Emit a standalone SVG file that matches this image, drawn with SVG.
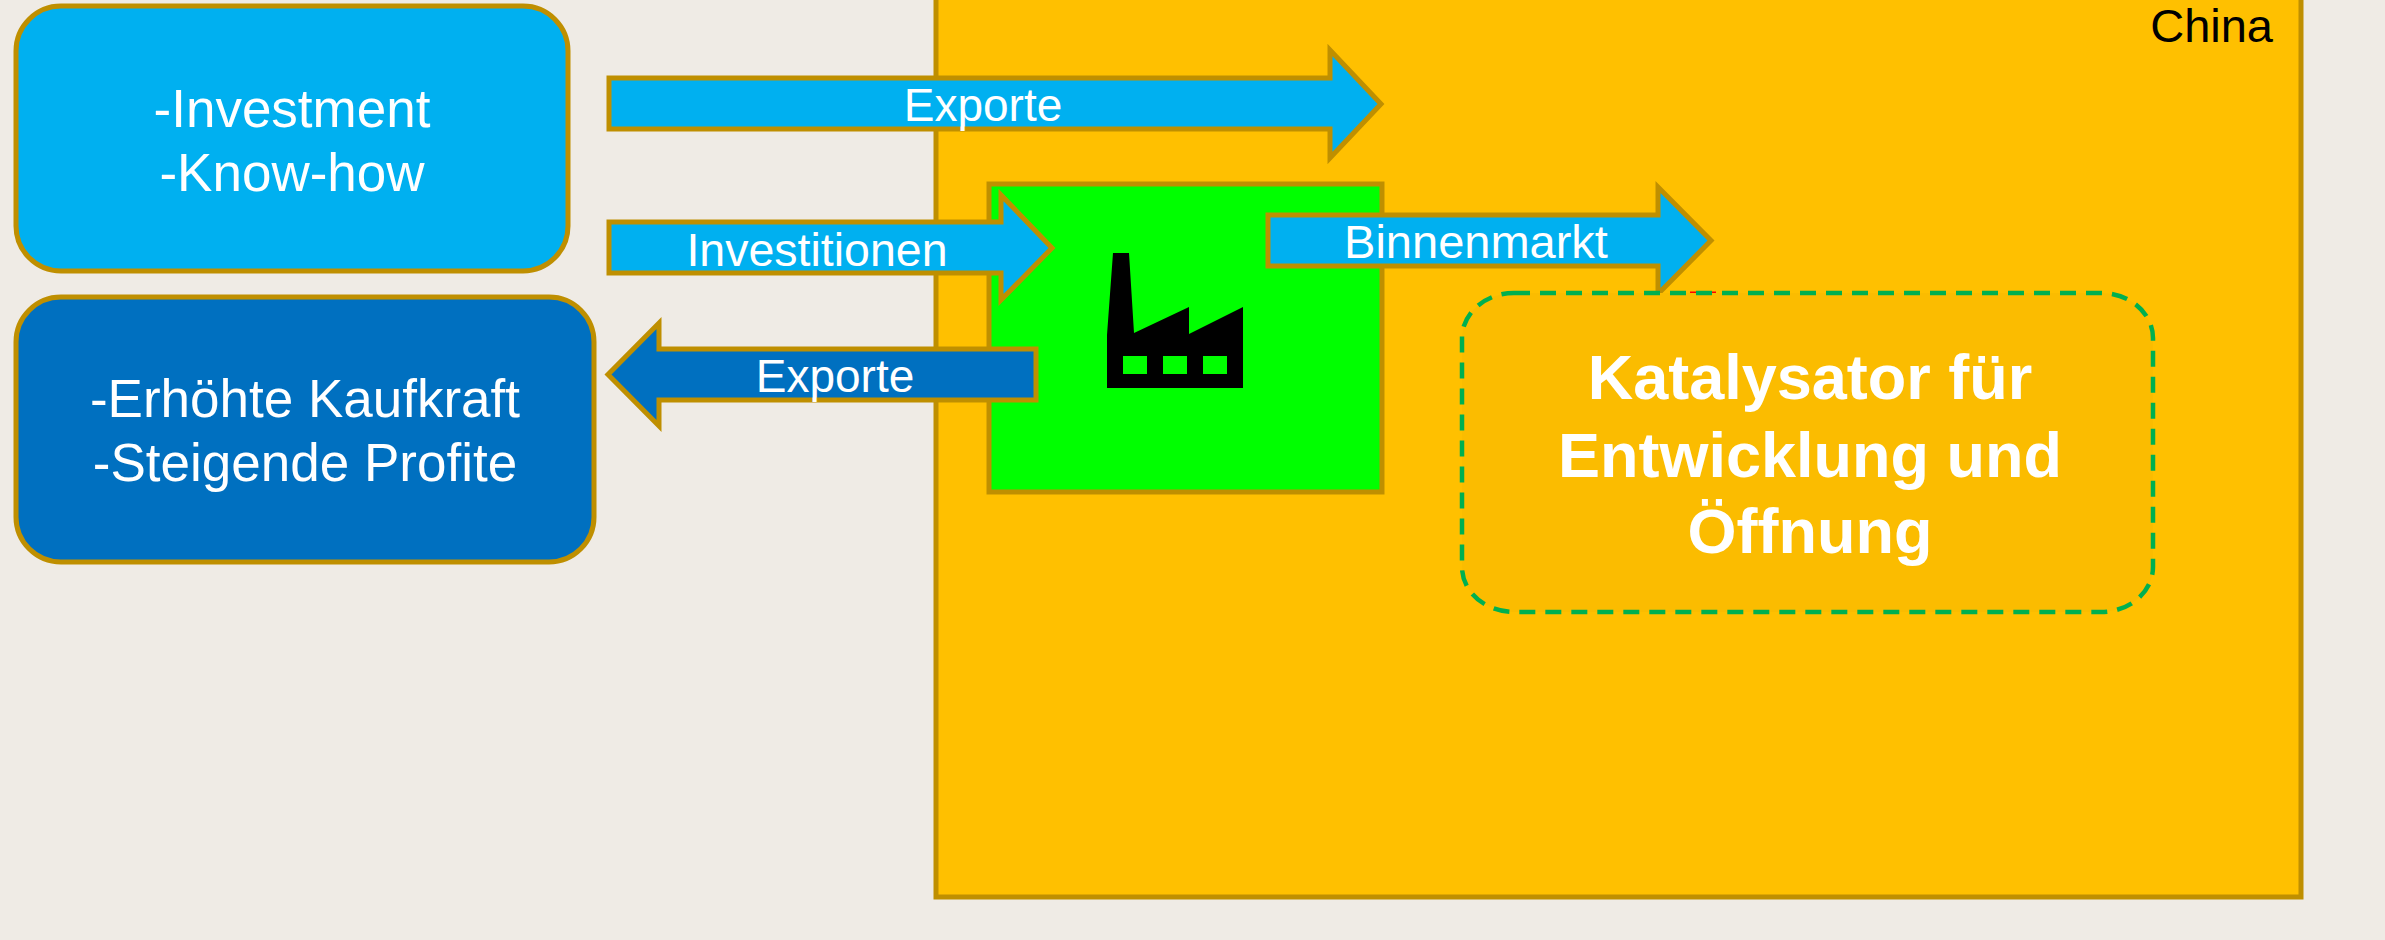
<svg xmlns="http://www.w3.org/2000/svg" width="2385" height="940" viewBox="0 0 2385 940">
<style>
.st{stroke:#BF8F00;stroke-width:5;stroke-linejoin:miter}
.lb{fill:#00B0F0}
.db{fill:#0070C0}
.t{font-family:"Liberation Sans",Arial,sans-serif;fill:#FFFFFF;text-anchor:middle}
.tb{font-family:"Liberation Sans",Arial,sans-serif;fill:#FFFFFF;text-anchor:middle;font-weight:bold;font-size:63px}
</style>
<rect x="0" y="0" width="2385" height="940" fill="#EFEBE5"/>
<g id="china">
<rect x="936" y="-10" width="1365" height="907" fill="#FFC000" class="st"/>
<text x="2273" y="42" font-family="Liberation Sans, Arial, sans-serif" font-size="47" fill="#000000" text-anchor="end">China</text>
</g>
<g id="investment-box">
<rect x="16" y="6" width="552" height="265" rx="45" ry="45" class="st lb"/>
<text class="t" font-size="53"><tspan x="292" y="127">-Investment</tspan><tspan x="292" y="191">-Know-how</tspan></text>
</g>
<g id="kaufkraft-box">
<rect x="16" y="297" width="578" height="265" rx="45" ry="45" class="st db"/>
<text class="t" font-size="53"><tspan x="305" y="417">-Erhöhte Kaufkraft</tspan><tspan x="305" y="481">-Steigende Profite</tspan></text>
</g>
<g id="factory">
<rect x="989" y="184" width="393" height="308" fill="#00FF00" class="st"/>
<path d="M1113,253 L1129,253 L1134,333 L1189,307 L1189,334 L1243,307 L1243,388 L1107,388 L1107,335 Z" fill="#000000"/>
<rect x="1123" y="356" width="24" height="18" fill="#00FF00"/>
<rect x="1163" y="356" width="24" height="18" fill="#00FF00"/>
<rect x="1203" y="356" width="24" height="18" fill="#00FF00"/>
</g>
<g id="connectors">
<g id="exporte-out">
<polygon points="609,78 1330,78 1330,50 1381,104 1330,158 1330,129 609,129" class="st lb"/>
<text x="983" y="121" class="t" font-size="46">Exporte</text>
</g>
<g id="investitionen">
<polygon points="609,222 1001,222 1001,195 1052,248 1001,300 1001,273 609,273" class="st lb"/>
<text x="817" y="266" class="t" font-size="46.5">Investitionen</text>
</g>
<g id="exporte-back">
<polygon points="1036,349 659,349 659,323 608,374.5 659,426 659,400 1036,400" class="st db"/>
<text x="835" y="392" class="t" font-size="46">Exporte</text>
</g>
<g id="binnenmarkt">
<polygon points="1268,215 1658,215 1658,187 1711,240.5 1658,294 1658,266 1268,266" class="st lb"/>
<text x="1476" y="258" class="t" font-size="47">Binnenmarkt</text>
</g>
<line x1="1690" y1="292.5" x2="1716" y2="292.5" stroke="#FF0000" stroke-width="2"/>
</g>
<g id="katalysator">
<rect x="1462" y="293" width="691" height="319" rx="52" ry="45" fill="#FBBC00" stroke="#00B050" stroke-width="4.5" stroke-dasharray="16,10"/>
<text class="tb"><tspan x="1810" y="399">Katalysator für</tspan><tspan x="1810" y="477">Entwicklung und</tspan><tspan x="1810" y="553">Öffnung</tspan></text>
</g>
</svg>
